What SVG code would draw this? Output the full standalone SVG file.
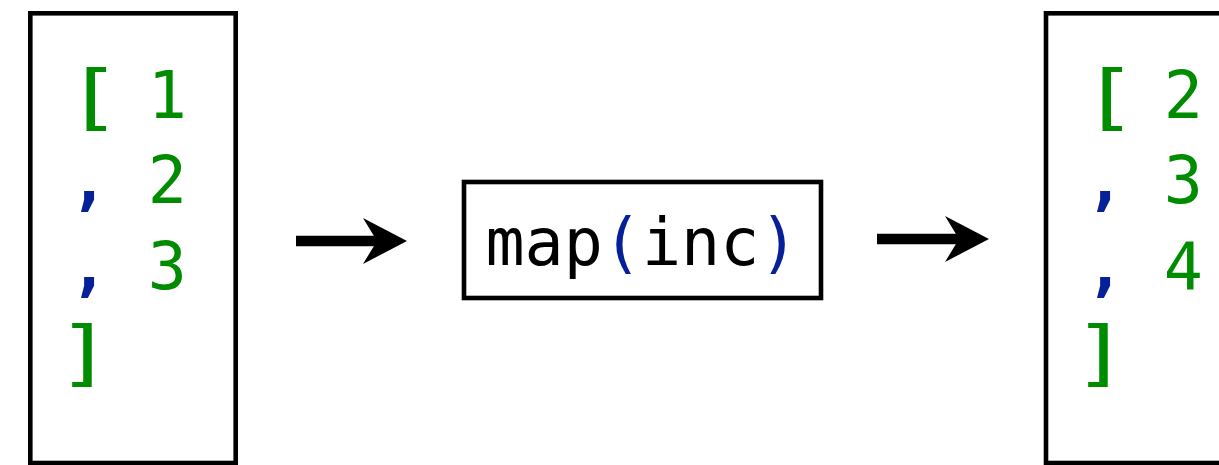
<svg xmlns="http://www.w3.org/2000/svg" width="1219" height="465" viewBox="0 0 1219 465">
  <style>
    .box { fill: #ffffff; stroke: #000000; stroke-width: 4.6; }
    .code { font-family: "DejaVu Sans Mono", "Liberation Mono", monospace; font-size: 65px; }
    .lit { fill: #008c00; }
    .punct { fill: #06209a; }
    .comma { fill: #06209a; font-weight: bold; }
    .ident { fill: #000000; }
    .bracket { fill: #008c00; text-anchor: middle; }
    .edge { stroke: #000000; stroke-width: 10.5; fill: none; marker-end: url(#head); }
  </style>
  <defs>
    <marker id="head" markerUnits="userSpaceOnUse" viewBox="0 0 44 46" refX="22" refY="23" markerWidth="44" markerHeight="46" orient="auto">
      <path d="M0,0 L44,23 L0,46 L14,23 Z" fill="#000000"/>
    </marker>
  </defs>

  <rect width="1219" height="465" fill="#ffffff"/>

  <!-- input list -->
  <g id="input-list">
    <rect class="box" x="30.3" y="13.3" width="205.4" height="449.7"/>
    <text class="code bracket" transform="translate(93.5,121) scale(1.45,1.1)">[</text>
    <text class="code lit" x="147.8" y="118">1</text>
    <text class="code comma" x="69.5" y="203">,</text>
    <text class="code lit" x="147.8" y="203">2</text>
    <text class="code comma" x="69.5" y="288.5">,</text>
    <text class="code lit" x="147.8" y="288.5">3</text>
    <text class="code bracket" transform="translate(84.5,377) scale(1.45,1.1)">]</text>
  </g>

  <!-- transformation -->
  <g id="map-inc">
    <rect class="box" x="464" y="182" width="357" height="116"/>
    <text class="code" x="485.4" y="265"><tspan class="ident">map</tspan><tspan class="punct">(</tspan><tspan class="ident">inc</tspan><tspan class="punct">)</tspan></text>
  </g>

  <!-- output list -->
  <g id="output-list">
    <rect class="box" x="1046" y="13.3" width="205.4" height="449.7"/>
    <text class="code bracket" transform="translate(1109.5,121) scale(1.45,1.1)">[</text>
    <text class="code lit" x="1163.8" y="118">2</text>
    <text class="code comma" x="1085.5" y="203">,</text>
    <text class="code lit" x="1163.8" y="203">3</text>
    <text class="code comma" x="1085.5" y="288.5">,</text>
    <text class="code lit" x="1163.8" y="288.5">4</text>
    <text class="code bracket" transform="translate(1100.5,377) scale(1.45,1.1)">]</text>
  </g>

  <!-- connectors -->
  <g id="connectors">
    <path class="edge" d="M296,241 L385,241"/>
    <path class="edge" d="M877,239 L967,239"/>
  </g>
</svg>
